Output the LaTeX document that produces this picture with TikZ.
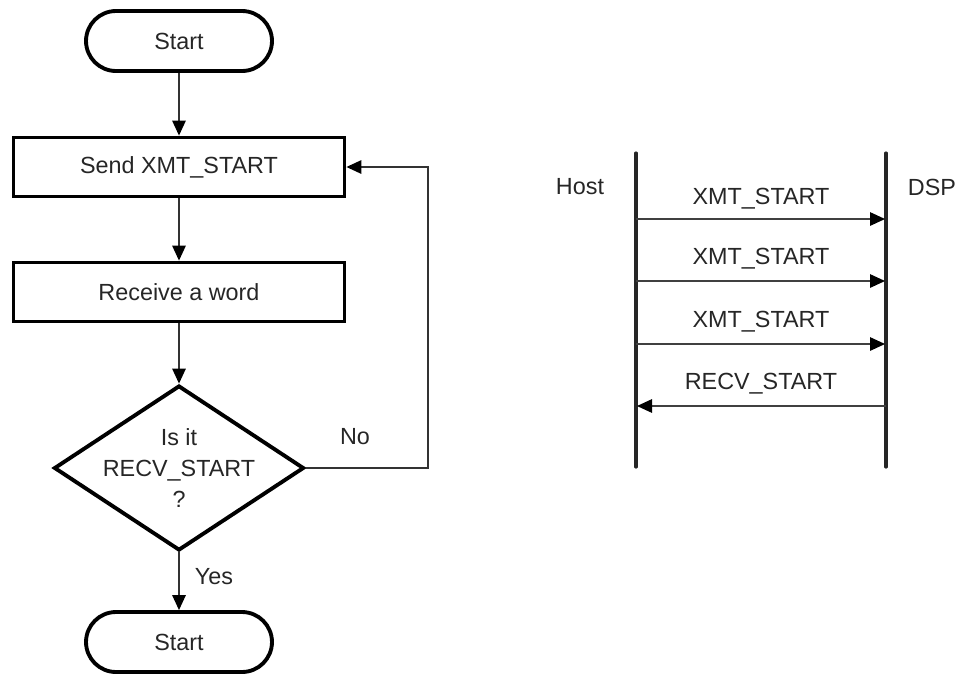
\documentclass[tikz,border=0pt]{standalone}
\usepackage{fontspec}
\setmainfont{Liberation Sans}
\usetikzlibrary{arrows.meta,shapes.geometric}
\begin{document}
\begin{tikzpicture}[x=0.02cm,y=-0.02cm,
  every node/.style={font=\fontsize{13.3}{17.6}\selectfont, text=black!85},
  terminal/.style={draw, line width=2.2pt, rounded corners=0.6cm,
    minimum width=3.72cm, minimum height=1.2cm, inner sep=0},
  procbox/.style={draw, line width=2.2pt, minimum width=6.62cm,
    minimum height=1.18cm, inner sep=0},
  decision/.style={draw, diamond, line width=2.2pt, minimum width=5.0cm,
    minimum height=3.3cm, inner sep=0},
  flow/.style={draw=black!80, line width=0.8pt,
    -{Triangle[length=0.3cm,width=0.27cm,color=black,fill=black]}},
  lifeline/.style={draw=black!85, line width=1.8pt, line cap=round},
  msg/.style={draw=black!75, line width=0.8pt,
    -{Triangle[length=0.3cm,width=0.27cm,color=black,fill=black]}},
  lbl/.style={inner sep=0}]
\useasboundingbox (0,0) rectangle (956,677);

% ---- flowchart ----
\node[terminal] (start) at (179,41) {Start};
\node[procbox] (send) at (179,167) {Send XMT\_START};
\node[procbox] (recv) at (179,292) {Receive a word};
\node[decision] (check) at (179,468) {};
\node[lbl, align=center] (checktext) at (179,468) {Is it\\RECV\_START\\?};
\node[terminal] (stop) at (179,642) {Start};
\coordinate (loopA) at (428,468);
\coordinate (loopB) at (428,167);

\draw[flow] (start) -- (send);
\draw[flow] (send) -- (recv);
\draw[flow] (recv) -- (check);
\draw[flow] (check) -- (stop);
\draw[flow] (check.east) -- (loopA) -- (loopB) -- (send.east);

\node[lbl] (no) at (355,437) {No};
\node[lbl] (yes) at (214,577) {Yes};

% ---- message sequence ----
\coordinate (hostTop) at (636,153);
\coordinate (hostBot) at (636,467);
\coordinate (dspTop) at (886,153);
\coordinate (dspBot) at (886,467);
\draw[lifeline] (hostTop) -- (hostBot);
\draw[lifeline] (dspTop) -- (dspBot);

\node[lbl] (host) at (580,187) {Host};
\node[lbl] (dsp) at (932,187) {DSP};

\coordinate (h1) at (636,219); \coordinate (d1) at (885,219);
\coordinate (h2) at (636,281); \coordinate (d2) at (885,281);
\coordinate (h3) at (636,344); \coordinate (d3) at (885,344);
\coordinate (h4) at (637,406); \coordinate (d4) at (886,406);

\draw[msg] (h1) -- (d1);
\draw[msg] (h2) -- (d2);
\draw[msg] (h3) -- (d3);
\draw[msg] (d4) -- (h4);

\node[lbl] (m1) at (761,199) {XMT\_START};
\node[lbl] (m2) at (761,259) {XMT\_START};
\node[lbl] (m3) at (761,322) {XMT\_START};
\node[lbl] (m4) at (761,384) {RECV\_START};
\end{tikzpicture}
\end{document}
